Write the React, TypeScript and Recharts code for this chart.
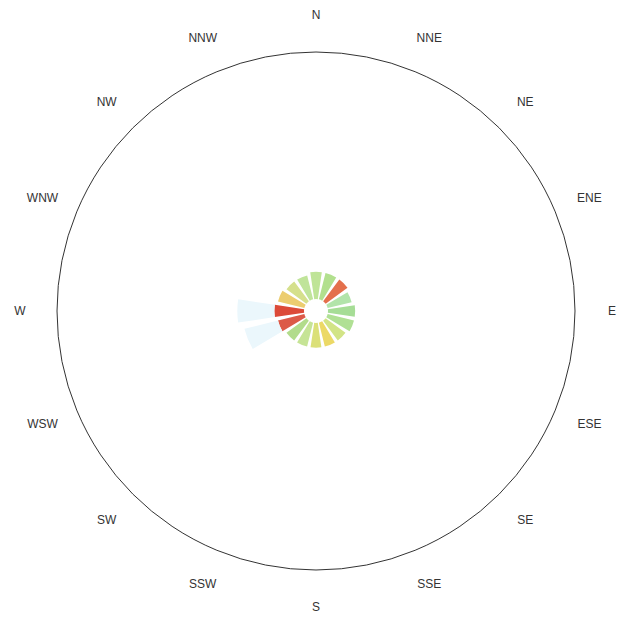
import React from "react";
import { RadialBarChart, RadialBar, PolarAngleAxis, PolarRadiusAxis, Cell } from "recharts";

const directions = ["N", "NNE", "NE", "ENE", "E", "ESE", "SE", "SSE", "S", "SSW", "SW", "WSW", "W", "WNW", "NW", "NNW"];
const innerValues = [1.1, 1.1, 1.1, 1.0, 1.1, 1.1, 1.0, 1.0, 1.0, 1.0, 1.0, 1.1, 1.2, 1.1, 1.0, 1.0];
const outerValues = [0, 0, 0, 0, 0, 0, 0, 0, 0, 0, 0, 1.4, 1.5, 0, 0, 0];
const innerColors = [
  "#bfe497", "#b2e08e", "#e4704c", "#b2e4aa", "#a6dd96", "#b0e094", "#d2e486", "#ecd966",
  "#dbe078", "#c6e496", "#b2dc8c", "#dc5a48", "#dc4a38", "#eccd70", "#d5e08c", "#c0e49a",
];

const data = directions.map((dir, i) => ({ dir, inner: innerValues[i], outer: outerValues[i] }));

const CX = 316;
const CY = 311;
const LABEL_R = 296;

function DirTick(props: any) {
  const idx = directions.indexOf(props.payload.value);
  const angle = 90 - idx * 22.5;
  const rad = (-angle * Math.PI) / 180;
  const x = CX + LABEL_R * Math.cos(rad);
  const y = CY + LABEL_R * Math.sin(rad);
  return (
    <text x={x} y={y} textAnchor="middle" dominantBaseline="central" fontSize={12} fill="#333" fontFamily="Liberation Sans, Arial, sans-serif">
      {props.payload.value}
    </text>
  );
}

export default function App() {
  return (
    <div style={{ position: "absolute", left: 0, top: 0, width: 625, height: 620, background: "#fff" }}>
      <RadialBarChart
        width={625}
        height={620}
        data={data}
        layout="centric"
        cx={CX}
        cy={CY}
        innerRadius={12}
        outerRadius={259}
        startAngle={78.75}
        endAngle={-281.25}
        barCategoryGap="12%"
      >
        <PolarAngleAxis
          type="category"
          dataKey="dir"
          axisLineType="circle"
          axisLine={{ stroke: "#333", strokeWidth: 1 }}
          tickLine={false}
          tick={<DirTick />}
        />
        <PolarRadiusAxis type="number" domain={[0, 10]} tick={false} axisLine={false} />
        <RadialBar dataKey="inner" stackId="a" isAnimationActive={false}>
          {data.map((d, i) => (
            <Cell key={d.dir} fill={innerColors[i]} />
          ))}
        </RadialBar>
        <RadialBar dataKey="outer" stackId="a" fill="#ebf7fc" isAnimationActive={false} />
      </RadialBarChart>
    </div>
  );
}
